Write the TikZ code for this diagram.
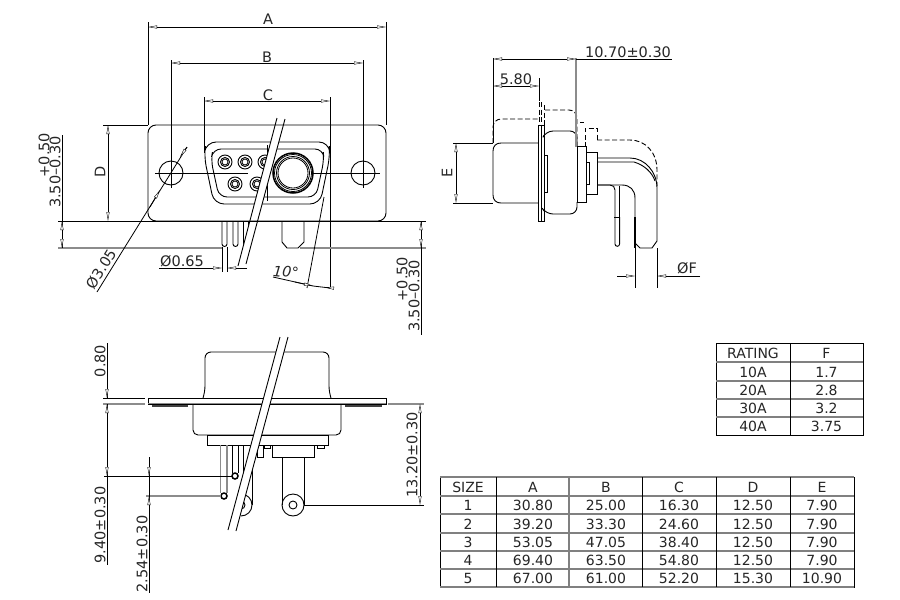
\documentclass[tikz,border=0pt]{standalone}
\usepackage{fontspec}
\usetikzlibrary{arrows.meta}
\newfontfamily\cadfont{DejaVu Sans}
\tikzset{
  obj/.style={line width=.9pt,black},
  thin line/.style={line width=.8pt,black},
  grayline/.style={line width=1.1pt,black!45},
  hid/.style={line width=.9pt,black,dash pattern=on 5pt off 2.5pt},
  dimline/.style={line width=.8pt,black,{Triangle[open,fill=white,length=9pt,width=3pt,line width=.4pt]}-{Triangle[open,fill=white,length=9pt,width=3pt,line width=.4pt]}},
  arrowend/.style={line width=.8pt,black,-{Triangle[open,fill=white,length=9pt,width=3pt,line width=.4pt]}},
  lbl/.style={font=\cadfont\fontsize{14.5}{15}\selectfont,inner sep=0pt,text=black!85},
  cell/.style={font=\cadfont\fontsize{14}{14}\selectfont,inner sep=0pt,text=black!85},
  mask/.style={fill=white,draw=none},
  tabline/.style={line width=.9pt,black},
  tabgray/.style={line width=1.2pt,black!50}
}
\begin{document}
\begin{tikzpicture}[x=1pt,y=-1pt]
\useasboundingbox (0,0) rectangle (900,600);
\fill[white] (0,0) rectangle (900,600);

% ---------- FRONT VIEW ----------
\draw[obj,rounded corners=10pt] (204,156) -- (206,142) -- (329,142) -- (330,156) -- (320,204) -- (214,204) -- cycle;
\draw[obj,rounded corners=8pt] (211,160) -- (213,149) -- (323,149) -- (324,160) -- (316,197) -- (219,197) -- cycle;
\foreach \n/\cx/\cy in {a/225/162,b/245/162,c/265/162,d/235/184,e/257/184}{
  \draw[obj] (\cx,\cy) circle (7);
  \draw[obj] (\cx,\cy) circle (4.5);
  \draw[thin line] (\cx,\cy) circle (3);
}
\draw[thin line] (155,173) -- (248,173);
\draw[thin line] (313,173) -- (380,173);
\fill[white] (293,173) circle (20);
\draw[line width=1.5pt] (293,173) circle (20);
\foreach \r in {18.5,16.5,15}{\draw[thin line] (293,173) circle (\r);}
\draw[thin line] (267,145) -- (267,201);
% lower pins
\draw[obj] (222,222) -- (222,244) arc[start angle=180,end angle=0,radius=2.5] -- (227,222);
\draw[obj] (233,222) -- (233,244) arc[start angle=180,end angle=0,radius=2.5] -- (238,222);
\draw[obj] (243,222) -- (243,247);
\draw[obj] (248,222) -- (248,247);
\draw[obj] (282,222) -- (282,242) -- (287,248) -- (298,248) -- (304,242) -- (304,222);
% mask of the break
\fill[mask] (277,118) -- (285,119) -- (246,264) -- (238,266) -- cycle;
\draw[obj] (277,118) -- (238,266);
\draw[obj] (285,119) -- (246,264);
% flange
\draw[obj,rounded corners=8pt] (148,125) rectangle (386,221);
\draw[obj] (171,173) circle (12);
\draw[obj] (363,173) circle (12);
% extension lines
\draw[thin line] (148,22) -- (148,125);
\draw[thin line] (386,22) -- (386,125);
\draw[thin line] (171,60) -- (171,188);
\draw[thin line] (363,60) -- (363,188);
\draw[thin line] (204,97) -- (204,153);
\draw[thin line] (330,97) -- (330,288);
\draw[thin line] (103,125) -- (148,125);
\draw[thin line] (58,221) -- (426,221);
\draw[grayline] (58,248) -- (222,248);
\draw[grayline] (300,248) -- (426,248);
% dims
\draw[dimline] (148,27) -- (386,27);
\node[lbl] (tA) at (268,19) {A};
\draw[dimline] (171,63) -- (363,63);
\node[lbl] (tB) at (267,57) {B};
\draw[dimline] (204,101) -- (330,101);
\node[lbl] (tC) at (268,95) {C};
\draw[dimline] (108,125) -- (108,221);
\node[lbl,rotate=90] (tD) at (100,172) {D};
\draw[thin line] (62,135) -- (62,248);
\draw[dimline] (62,221) -- (62,248);
\node[lbl,rotate=90] (tpa) at (44,155) {+0.50};
\node[lbl,rotate=90] (tma) at (55,172) {3.50–0.30};
\draw[thin line] (421,221) -- (421,335);
\draw[dimline] (421,221) -- (421,248);
\node[lbl,rotate=90] (tpb) at (402,279) {+0.50};
\node[lbl,rotate=90] (tmb) at (414,296) {3.50–0.30};
% 0.65
\draw[thin line] (222,247) -- (222,272);
\draw[thin line] (227,247) -- (227,272);
\draw[arrowend] (159,268) -- (222,268);
\draw[arrowend] (247,268) -- (227,268);
\node[lbl] (t065) at (182,261) {Ø0.65};
% 3.05
\draw[thin line] (97,292) -- (187,147);
\draw[arrowend] (150,207) -- (160,190);
\draw[arrowend] (187,147) -- (180,157);
\node[lbl,rotate=58] (t305) at (101,269) {Ø3.05};
% 10 deg
\draw[thin line] (324,197) -- (307,288);
\draw[thin line] (273,277) -- (313,286);
\draw[arrowend] (295,282) -- (313,286);
\draw[arrowend] (332,288) -- (325,287.4);
\draw[thin line] (313,286) -- (330,288);
\node[lbl,font=\cadfont\itshape\fontsize{14.5}{15}\selectfont,rotate=-5] (t10) at (286,272) {10°};

% ---------- SIDE VIEW ----------
% dashed outline
\draw[hid,rounded corners=8pt] (493,143) -- (493,119) -- (538,119);
\draw[hid,rounded corners=8pt] (545,110) -- (577,110) -- (577,147);
\draw[hid] (580,122) -- (584,122);
\draw[hid] (585,147) -- (585,128) -- (597,128) -- (597,140);
\draw[hid] (597,140) -- (630,140) .. controls (645,140) and (657,152) .. (657,170) -- (657,186);
\draw[hid] (539,102) -- (539,125);
\draw[hid] (541.5,102) -- (541.5,125);
\draw[hid] (544,105) -- (544,125);
% solid body
\draw[obj] (538,143) -- (501,143) .. controls (496,143) and (493,146) .. (493,151) -- (493,195) .. controls (493,200) and (496,203) .. (501,203) -- (538,203);
\draw[obj,fill=white] (538,125) rectangle (544,221);
\draw[obj] (541,125) -- (541,221);
\draw[obj,rounded corners=7pt] (544,135) -- (546,131) -- (577,131) -- (577,146);
\draw[obj,rounded corners=7pt] (544,211) -- (546,214) -- (577,214) -- (577,202);
\draw[obj] (544,155) rectangle (547,192);
\draw[obj] (577,146) rectangle (586,202);
\draw[obj] (586,152) rectangle (597,194);
\draw[obj] (586,162) rectangle (589,184);
% wires
\draw[obj] (597,158) -- (630,158) .. controls (645,158) and (657,172) .. (657,188) -- (657,241) -- (652,248) -- (640,248) -- (635,243) -- (635,198);
\draw[obj] (597,162) -- (634,162) .. controls (644,165) and (652,172) .. (655,181);
\draw[obj] (597,185) -- (622,185) .. controls (630,185) and (635,190) .. (635,198);
\draw[obj] (597,185) -- (610,185) .. controls (613,185) and (615,187) .. (615,190) -- (615,244) arc[start angle=180,end angle=0,radius=2.3] -- (619.6,217);
\draw[obj] (619,186) -- (619,217);
\draw[obj] (614,217) -- (620,217);
\draw[line width=1.3pt] (635,217) -- (635,248);
% dims
\draw[thin line] (493,58) -- (493,143);
\draw[grayline] (576,58) -- (576,147);
\draw[thin line] (539,78) -- (539,101);
\draw[dimline] (493,59) -- (576,59);
\draw[thin line] (576,59) -- (672,59);
\node[lbl] (t1070) at (628,52) {10.70±0.30};
\draw[dimline] (493,86) -- (539,86);
\node[lbl] (t580) at (516,79) {5.80};
\draw[thin line] (453,143) -- (493,143);
\draw[thin line] (453,203) -- (493,203);
\draw[dimline] (456,143) -- (456,203);
\node[lbl,rotate=90] (tE) at (447,173) {E};
\draw[thin line] (635,248) -- (635,288);
\draw[thin line] (657,248) -- (657,288);
\draw[arrowend] (617,276) -- (635,276);
\draw[arrowend] (700,276) -- (657,276);
\node[lbl] (tF) at (687,268) {ØF};

% ---------- LOWER VIEW ----------
\draw[obj,rounded corners=6pt] (203,398) -- (205,392) -- (205,352) -- (329,352) -- (329,392) -- (331,398);
\draw[obj,rounded corners=5pt] (193,405) -- (193,435) -- (341,435) -- (341,405);
\draw[line width=1.5pt,black!75] (152,406) -- (188,406);
\draw[line width=1.5pt,black!75] (345,406) -- (382,406);
\draw[obj] (207,435) rectangle (328,445);
\draw[obj] (220,445) -- (236,445);
\draw[grayline] (220.5,445) -- (220.5,493);
\draw[grayline] (227,445) -- (227,493);
\draw[obj] (232,445) -- (232,473);
\draw[obj] (238,445) -- (238,473);
\draw[line width=1.5pt] (224,496) circle (3);
\draw[line width=1.5pt] (235,476) circle (3);
\draw[obj] (243,445) -- (243,500);
\draw[obj] (252,445) -- (252,505);
\draw[obj] (257,445) rectangle (263,457);
\draw[obj] (241,494) arc[start angle=-90,end angle=90,radius=11];
\draw[obj] (241,501) arc[start angle=-90,end angle=90,radius=4];
\draw[obj] (264,445) rectangle (270,448);
\draw[obj] (317,445) rectangle (324,448);
\draw[obj] (272,445) rectangle (314,457);
\draw[obj] (282,457) -- (282,505);
\draw[obj] (304,457) -- (304,505);
\draw[obj] (293,505) circle (11);
\draw[obj] (293,505) circle (4);
% plate
\draw[obj] (148,398) rectangle (386,404);
\draw[grayline] (148,403.5) -- (386,403.5);
% mask of the break
\fill[mask] (280,337) -- (288,337) -- (236,531) -- (228,530) -- cycle;
\draw[obj] (280,337) -- (228,530);
\draw[obj] (288,337) -- (236,531);
% dims
\draw[thin line] (103,398) -- (145,398);
\draw[grayline] (103,404) -- (145,404);
\draw[thin line] (107,343) -- (107,398);
\draw[thin line] (107,404) -- (107,565);
\draw[arrowend] (107,385) -- (107,398);
\draw[arrowend] (107,417) -- (107,404);
\draw[arrowend] (107,462) -- (107,476);
\node[lbl,rotate=90] (t080) at (100,361) {0.80};
\node[lbl,rotate=90] (t940) at (100,525) {9.40±0.30};
\draw[thin line] (104,476) -- (232,476);
\draw[grayline] (146,496) -- (221,496);
\draw[thin line] (149,457) -- (149,593);
\draw[arrowend] (149,464) -- (149,476);
\draw[arrowend] (149,510) -- (149,496);
\node[lbl,rotate=90] (t254) at (142,554) {2.54±0.30};
\draw[grayline] (388,404) -- (424,404);
\draw[thin line] (304,505) -- (424,505);
\draw[dimline] (420,404) -- (420,505);
\node[lbl,rotate=90] (t132) at (412,455) {13.20±0.30};

% ---------- RATING TABLE ----------
\draw[tabline] (716,343.5) rectangle (863,435);
\foreach \y in {362,381,399,417}{\draw[tabgray] (716,\y) -- (863,\y);}
\draw[tabline] (790,343.5) -- (790,435);
\foreach \i/\y/\a/\b in {0/353/RATING/F,1/372/10A/1.7,2/390/20A/2.8,3/408/30A/3.2,4/426/40A/3.75}{
  \node[cell] (ra\i) at (753,\y) {\a};
  \node[cell] (rb\i) at (826.5,\y) {\b};
}

% ---------- SIZE TABLE ----------
\draw[tabline] (440,477) rectangle (854,587);
\foreach \y in {496,514,533,551,569}{\draw[tabgray] (440,\y) -- (854,\y);}
\draw[tabgray] (440,477) -- (854,477);
\draw[tabgray] (440,587) -- (854,587);
\draw[tabline] (496,477) -- (496,587);
\draw[tabgray] (569,477) -- (569,587);
\draw[tabline] (642,477) -- (642,587);
\draw[tabline] (716,477) -- (716,587);
\draw[tabline] (790,477) -- (790,587);
\foreach \i/\y/\s/\a/\b/\c/\d/\e in {
 0/487/SIZE/A/B/C/D/E,
 1/505/1/30.80/25.00/16.30/12.50/7.90,
 2/524/2/39.20/33.30/24.60/12.50/7.90,
 3/542/3/53.05/47.05/38.40/12.50/7.90,
 4/560/4/69.40/63.50/54.80/12.50/7.90,
 5/578/5/67.00/61.00/52.20/15.30/10.90}{
  \node[cell] (s\i) at (468,\y) {\s};
  \node[cell] (sa\i) at (533,\y) {\a};
  \node[cell] (sb\i) at (606,\y) {\b};
  \node[cell] (sc\i) at (679,\y) {\c};
  \node[cell] (sd\i) at (753,\y) {\d};
  \node[cell] (se\i) at (822,\y) {\e};
}
\end{tikzpicture}
\end{document}
